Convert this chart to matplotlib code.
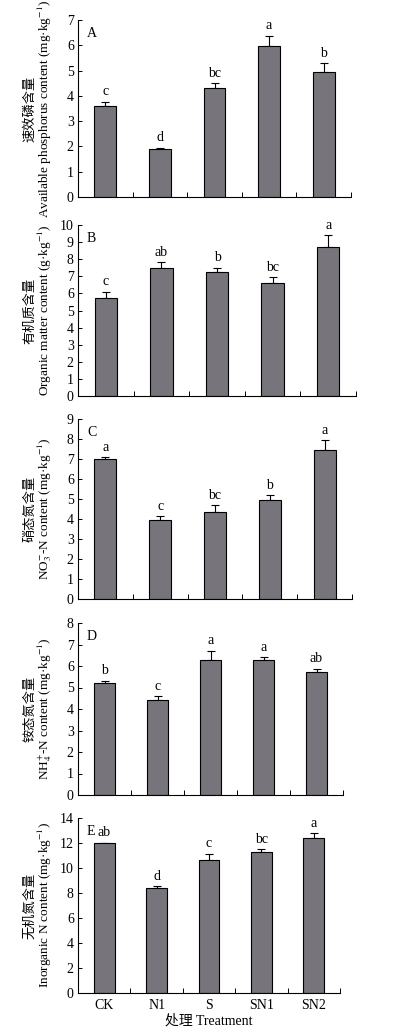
import matplotlib
matplotlib.use("Agg")
import matplotlib.pyplot as plt
import numpy as np

plt.rcParams['font.family'] = ['Liberation Serif', 'Noto Sans CJK SC']
plt.rcParams['mathtext.fontset'] = 'stix'

treatments = ['CK', 'N1', 'S', 'SN1', 'SN2']

ap_mean = [3.58, 1.89, 4.30, 5.98, 4.94]
ap_err = [0.19, 0.05, 0.19, 0.40, 0.34]
ap_letters = ['c', 'd', 'bc', 'a', 'b']

om_mean = [5.72, 7.48, 7.24, 6.60, 8.70]
om_err = [0.38, 0.35, 0.27, 0.35, 0.70]
om_letters = ['c', 'ab', 'b', 'bc', 'a']

no3_mean = [7.00, 3.96, 4.37, 4.94, 7.43]
no3_err = [0.10, 0.17, 0.33, 0.24, 0.51]
no3_letters = ['a', 'c', 'bc', 'b', 'a']

nh4_mean = [5.19, 4.43, 6.26, 6.29, 5.70]
nh4_err = [0.13, 0.17, 0.46, 0.12, 0.17]
nh4_letters = ['b', 'c', 'a', 'a', 'ab']

inorg_mean = [12.00, 8.40, 10.67, 11.31, 12.40]
inorg_err = [0.04, 0.16, 0.48, 0.21, 0.40]
inorg_letters = ['ab', 'd', 'c', 'bc', 'a']

panels = [
    dict(tag='A', mean=ap_mean, err=ap_err, letters=ap_letters, ymax=7, step=1,
         cn='速效磷含量', en='Available phosphorus content (mg·kg$^{-1}$)',
         box=(78, 351, 20, 197)),
    dict(tag='B', mean=om_mean, err=om_err, letters=om_letters, ymax=10, step=1,
         cn='有机质含量', en='Organic matter content (g·kg$^{-1}$)',
         box=(78, 356, 225, 396)),
    dict(tag='C', mean=no3_mean, err=no3_err, letters=no3_letters, ymax=9, step=1,
         cn='硝态氮含量', en='NO$_3^{-}$-N content (mg·kg$^{-1}$)',
         box=(78, 352, 419, 599)),
    dict(tag='D', mean=nh4_mean, err=nh4_err, letters=nh4_letters, ymax=8, step=1,
         cn='铵态氮含量', en='NH$_4^{+}$-N content (mg·kg$^{-1}$)',
         box=(78, 343, 623, 795)),
    dict(tag='E', mean=inorg_mean, err=inorg_err, letters=inorg_letters, ymax=14, step=2,
         cn='无机氮含量', en='Inorganic N content (mg·kg$^{-1}$)',
         box=(78, 340, 818, 993)),
]

W, H = 397, 1031
fig = plt.figure(figsize=(W / 100, H / 100), dpi=100)
bar_color = '#77757b'
fs = 10

x = np.arange(len(treatments))
for i, p in enumerate(panels):
    l, r, t, b = p['box']
    ax = fig.add_axes([l / W, 1 - b / H, (r - l) / W, (b - t) / H])
    ax.bar(x, p['mean'], width=0.4, color=bar_color, edgecolor='black', linewidth=0.8, zorder=2)
    ax.errorbar(x, p['mean'], yerr=[np.zeros(len(x)), p['err']], fmt='none',
                ecolor='black', elinewidth=0.8, capsize=3.2, capthick=0.8, zorder=1)
    for xi, m, e, lab in zip(x, p['mean'], p['err'], p['letters']):
        ax.annotate(lab, (xi, m + e), xytext=(0, 2.5), textcoords='offset points',
                    ha='center', va='bottom', fontsize=fs)
    ax.set_xlim(-0.5, len(x) - 0.5)
    ax.set_ylim(0, p['ymax'])
    ax.set_yticks(np.arange(0, p['ymax'] + 0.01, p['step']))
    ax.set_xticks(x)
    ax.set_xticks(np.arange(0.5, len(x), 1.0), minor=True)
    ax.tick_params(axis='y', direction='in', length=3, width=0.7, labelsize=fs, pad=3)
    ax.tick_params(axis='x', which='major', length=0, labelsize=fs, pad=4)
    ax.tick_params(axis='x', which='minor', direction='in', length=3.5, width=0.7)
    if i < len(panels) - 1:
        ax.set_xticklabels([])
    else:
        ax.set_xticklabels(treatments)
        ax.set_xlabel('处理 Treatment', fontsize=fs, labelpad=2)
    for s in ['top', 'right']:
        ax.spines[s].set_visible(False)
    for s in ['left', 'bottom']:
        ax.spines[s].set_linewidth(0.8)
    ax.annotate(p['tag'], (0, 1), xycoords='axes fraction', xytext=(6.5, -5),
                textcoords='offset points', ha='left', va='top', fontsize=fs)
    yc = 1 - (t + b) / 2 / H
    fig.text(30 / W, yc, p['cn'], rotation=90, ha='center', va='center',
             fontsize=fs - 0.5, family=['Noto Sans CJK SC'])
    fig.text(45 / W, yc, p['en'], rotation=90, ha='center', va='center',
             fontsize=fs - 0.5)

fig.savefig('out.png', dpi=100)
